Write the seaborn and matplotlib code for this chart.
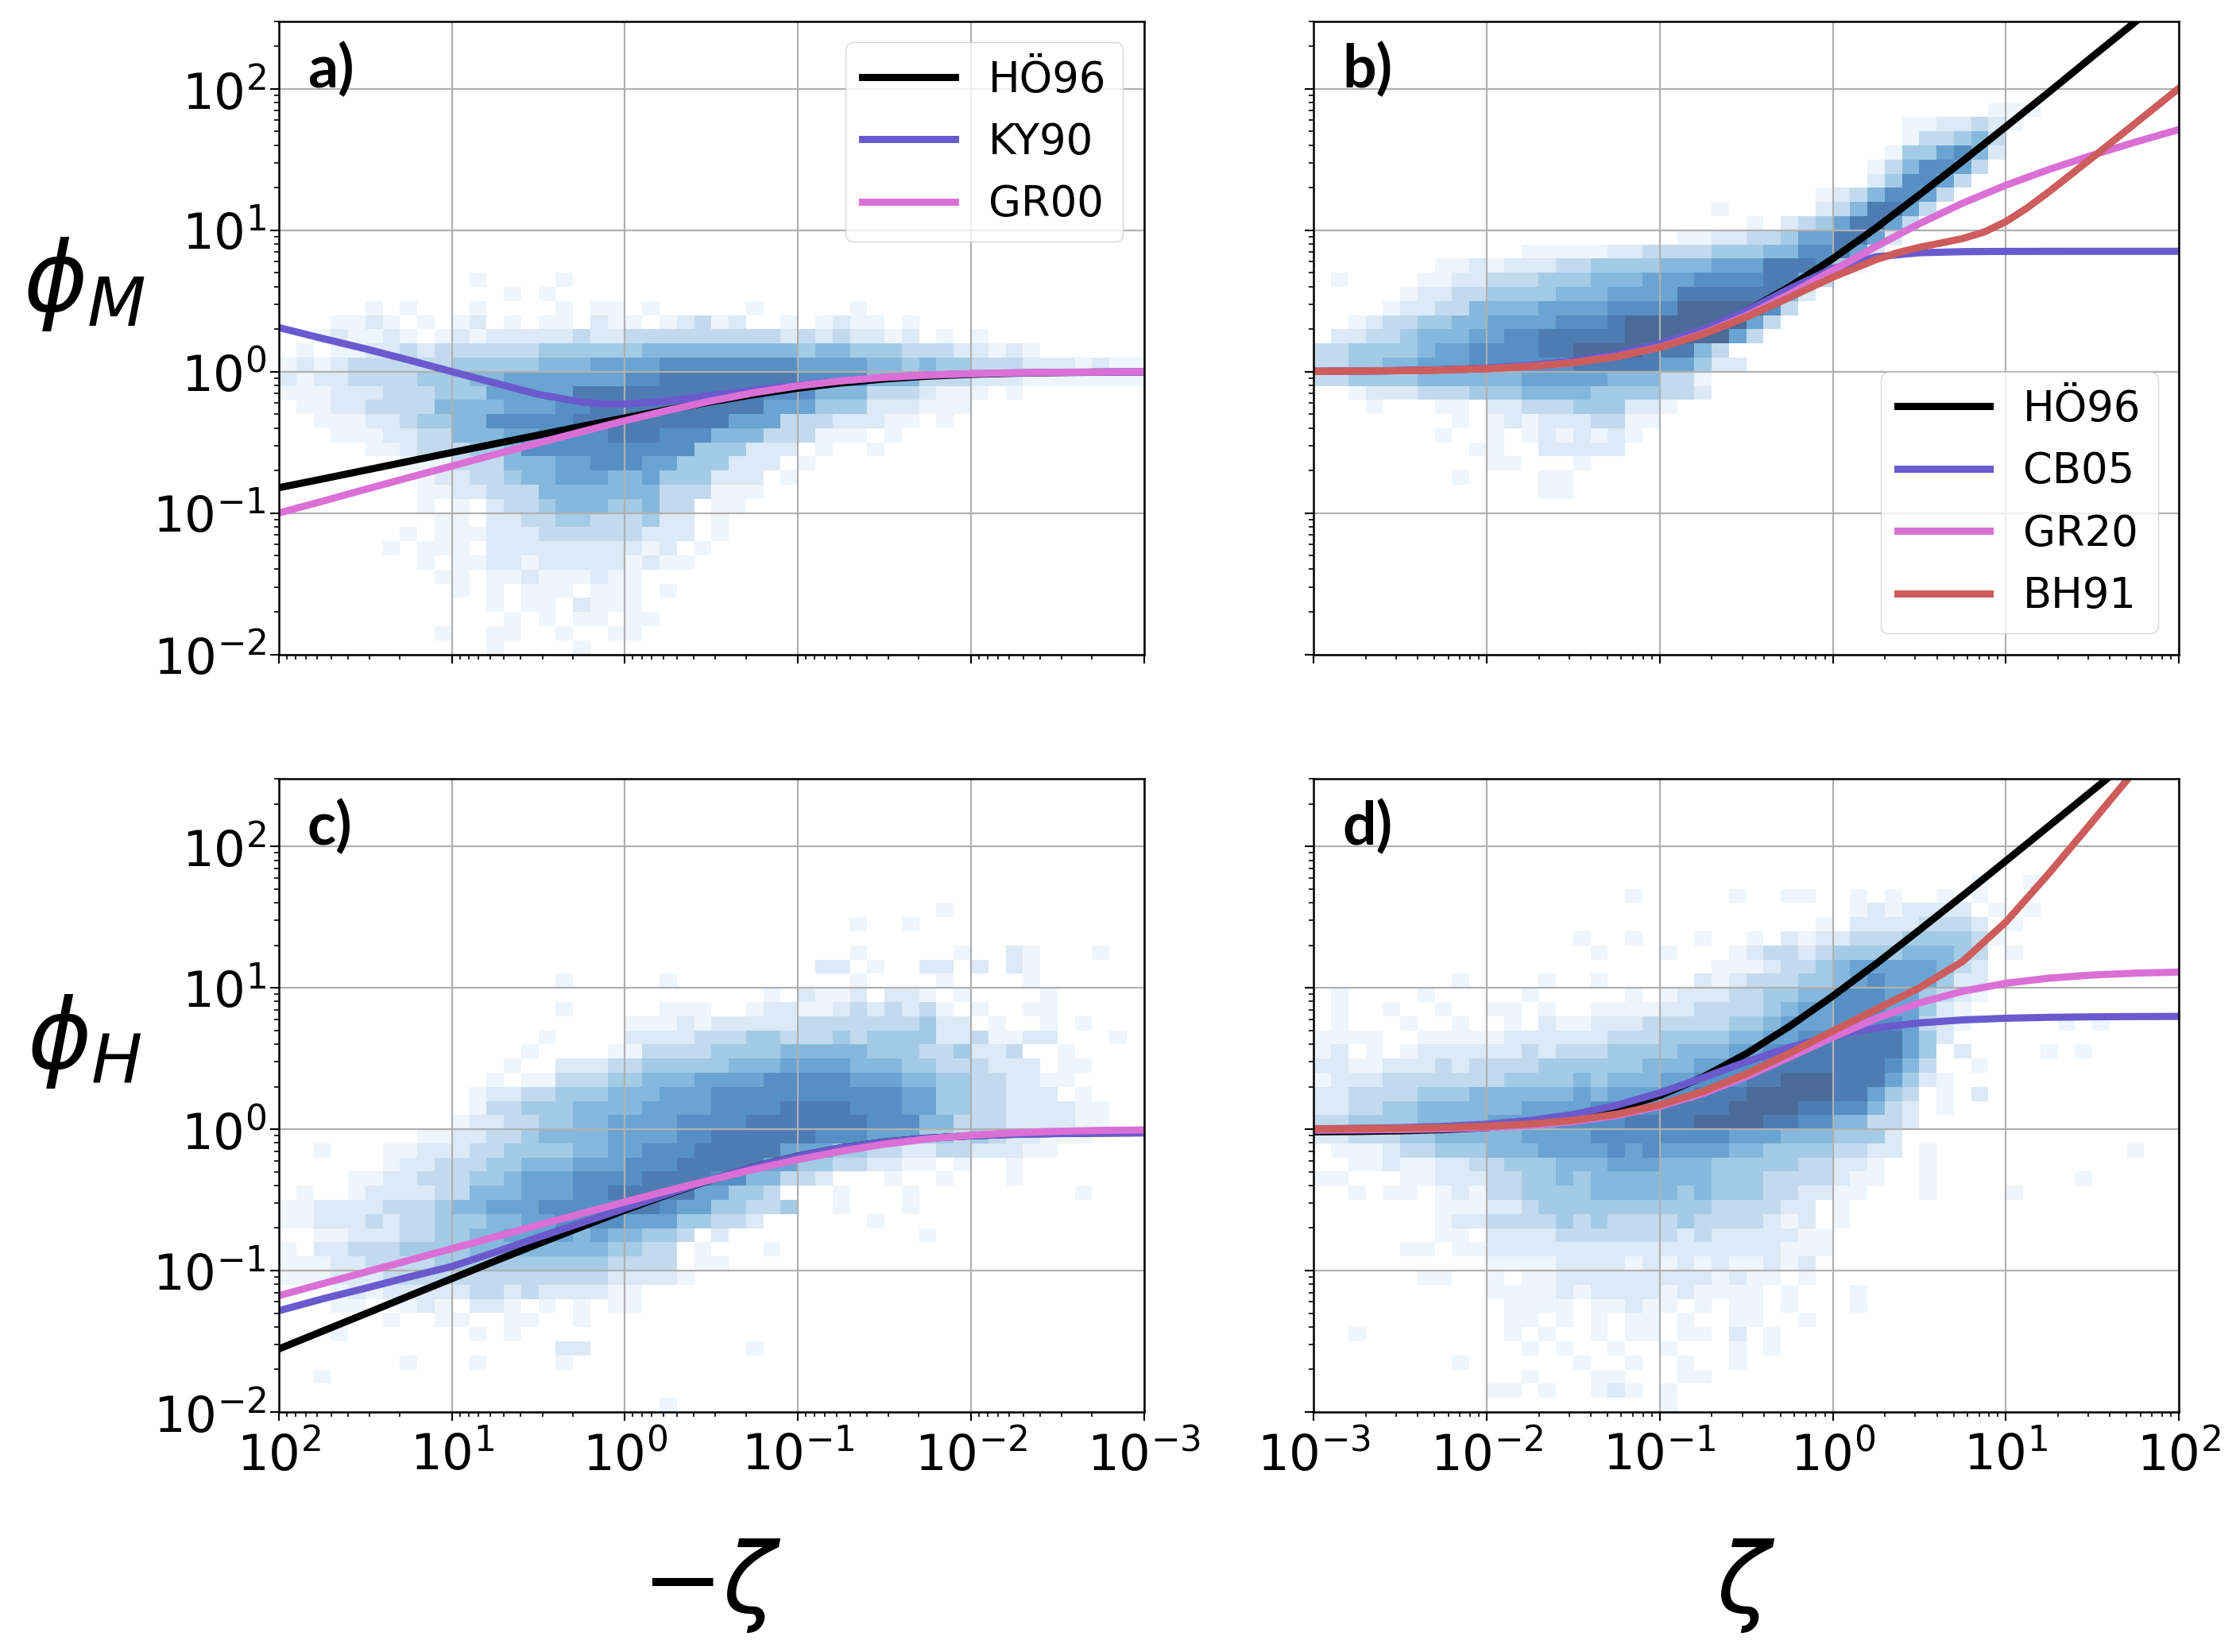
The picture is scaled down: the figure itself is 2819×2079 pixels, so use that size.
import numpy as np
import pandas as pd
import matplotlib
matplotlib.use("Agg")
import matplotlib.pyplot as plt
from matplotlib.colors import ListedColormap
import seaborn as sns

# ---------------- curves ----------------
# unstable side, x = -zeta
zeta_u = [100, 56.2, 31.6, 17.8, 10, 5.62, 3.16, 1.78, 1, 0.562, 0.316,
          0.178, 0.1, 0.0562, 0.0316, 0.0178, 0.01, 0.00562, 0.00316, 0.00178, 0.001]
phiM_HO96_u = [0.151, 0.174, 0.201, 0.232, 0.268, 0.309, 0.356, 0.410, 0.471, 0.539, 0.613,
               0.689, 0.764, 0.832, 0.888, 0.929, 0.957, 0.975, 0.985, 0.992, 0.995]
phiM_GR00_u = [0.100, 0.121, 0.147, 0.178, 0.215, 0.260, 0.313, 0.376, 0.450, 0.533, 0.622,
               0.711, 0.794, 0.862, 0.913, 0.947, 0.969, 0.982, 0.990, 0.994, 0.997]
zeta_ky = [100, 56.2, 31.6, 17.8, 10, 5.62, 3.16, 1.78, 1.33, 1, 0.562, 0.316,
           0.178, 0.1, 0.0562, 0.0316, 0.0178, 0.01, 0.00562, 0.00316, 0.00178, 0.001]
phiM_KY90_u = [2.05, 1.72, 1.45, 1.21, 1.00, 0.83, 0.69, 0.61, 0.59, 0.59, 0.62, 0.68,
               0.74, 0.80, 0.862, 0.910, 0.944, 0.966, 0.980, 0.989, 0.993, 0.996]
phiH_HO96_u = [0.0279, 0.0372, 0.0495, 0.0660, 0.0878, 0.117, 0.155, 0.204, 0.268, 0.346, 0.440,
               0.543, 0.646, 0.739, 0.813, 0.865, 0.899, 0.921, 0.933, 0.940, 0.945]
phiH_KY90_u = [0.052, 0.063, 0.075, 0.090, 0.107, 0.135, 0.172, 0.218, 0.276, 0.350, 0.442,
               0.543, 0.645, 0.739, 0.812, 0.864, 0.898, 0.919, 0.931, 0.938, 0.942]
phiH_GR00_u = [0.0665, 0.0806, 0.0976, 0.118, 0.143, 0.173, 0.210, 0.253, 0.306, 0.368, 0.440,
               0.522, 0.610, 0.700, 0.784, 0.854, 0.907, 0.943, 0.967, 0.981, 0.989]

# stable side, x = zeta
zeta_s = [0.001, 0.00178, 0.00316, 0.00562, 0.01, 0.0178, 0.0316, 0.0562, 0.1, 0.178, 0.316,
          0.562, 1, 1.78, 3.16, 5.62, 10, 17.8, 31.6, 56.2, 100]
phiM_HO96_s = [1.005, 1.009, 1.017, 1.030, 1.053, 1.094, 1.168, 1.298, 1.53, 1.94, 2.68,
               3.98, 6.3, 10.4, 17.8, 30.8, 54.0, 95.2, 169, 299, 531]
phiM_CB05_s = [1.006, 1.011, 1.019, 1.034, 1.060, 1.107, 1.188, 1.329, 1.571, 1.985, 2.689,
               3.848, 5.365, 6.491, 6.936, 7.059, 7.090, 7.098, 7.10, 7.10, 7.10]
phiM_GR20_s = [1.005, 1.009, 1.016, 1.028, 1.050, 1.089, 1.157, 1.278, 1.490, 1.859, 2.488,
               3.534, 5.197, 7.685, 11.13, 15.54, 20.84, 26.95, 33.98, 42.09, 51.61]
zeta_bh = [0.001, 0.00178, 0.00316, 0.00562, 0.01, 0.0178, 0.0316, 0.0562, 0.1, 0.178, 0.316,
           0.562, 1, 1.78, 2.37, 3.16, 4.22, 5.62, 7.5, 10, 13.3, 17.8, 31.6, 56.2, 100]
phiM_BH91_s = [1.005, 1.009, 1.016, 1.028, 1.050, 1.088, 1.157, 1.276, 1.484, 1.839, 2.428,
               3.350, 4.656, 6.201, 6.94, 7.574, 8.13, 8.736, 9.72, 11.50, 14.41, 18.77,
               32.62, 57.23, 101]
phiH_HO96_s = [0.958, 0.964, 0.975, 0.994, 1.028, 1.089, 1.197, 1.389, 1.73, 2.34, 3.42,
               5.34, 8.75, 14.8, 25.6, 44.8, 79.0, 140, 248, 440, 781]
phiH_CB05_s = [1.008, 1.014, 1.026, 1.047, 1.085, 1.153, 1.272, 1.476, 1.809, 2.314, 2.998,
               3.794, 4.571, 5.205, 5.652, 5.933, 6.098, 6.191, 6.241, 6.269, 6.283]
phiH_GR20_s = [0.985, 0.989, 0.995, 1.007, 1.029, 1.067, 1.133, 1.249, 1.451, 1.793, 2.355,
               3.229, 4.480, 6.071, 7.821, 9.460, 10.78, 11.72, 12.33, 12.71, 12.93]
phiH_BH91_s = [1.005, 1.009, 1.016, 1.028, 1.050, 1.089, 1.157, 1.277, 1.487, 1.850, 2.460,
               3.447, 4.947, 7.051, 9.987, 15.37, 29.19, 64.74, 149.6, 349.8, 824]

# ---------------- 2-D histograms (0.1 decade cells) ----------------
# one string per row: first row spans 10^2.4..10^2.5, row 45 spans 10^-2..10^-1.9
# columns run left to right as drawn; '.' = empty, 1..9 = shade level
hist_a = [""] * 18 + [
    ".........." ".1....1...",
    ".........." "...1.1....",
    ".....1.1.." ".1....1.11" ".1.....1.." "...1......",
    "...1121.1." "12.1.11.21" "1.12312..1" ".1211.1...",
    "..121121.1" "2122222322" "3333333332" "3232212.1." "1.........",
    ".1.1122323" "3333344444" "4555555555" "4554443332" "2121......",
    "1212333333" "4444455566" "6677777777" "6666554544" "3332221211",
    "2122333344" "4556666666" "7788888888" "7777555333" "2221111111",
    "1112223334" "4466666888" "8888888877" "7555333211" "1.1.......",
    ".112233335" "5556667788" "8888888866" "6444222111",
    "..11122344" "5577777888" "8888886663" "3322211.1.",
    "...1112233" "5556677778" "8877755533" "3111.1....",
    ".....11233" "3445777777" "7777444222" ".1..1.....",
    ".......111" "3335556677" "766444222." "1.........",
    "........12" "2334556665" "56444222.1",
    "........11" "2233355555" "55333111..",
    "........1." "1.23345554" "4533.11...",
    ".........1" "1.22334433" "3422.1....",
    ".......1.1" "1122233333" "3222.1....",
    "......1.11" "1.22222222" "212.1.....",
    "........1." "1122122222" "1211......",
    ".........1" "1.11211121" "1.........",
    ".........." "1.1.111.11" "1.1.......",
    ".........." "..1.11.211" "1.........",
    ".........." "...1.1.11." "11........",
    ".........1" "..11..1..1" "1.........",
    ".........." "..1....1..",
]

hist_b = [""] * 6 + [
    ".........." ".........." ".........." ".........1" "11........",
    ".........." ".........." ".........." "....112232" "1.........",
    ".........." ".........." ".........." "....133453",
    ".........." ".........." ".........." "...1446752",
    ".........." ".........." ".........." "..1357763.",
    ".........." ".........." ".........." "..247763..",
    ".........." ".........." ".........1" "2357763...",
    ".........." ".........." "...1.....2" "358863....",
    ".........." ".........." ".....1.234" "68863.....",
    ".........." ".........." ".112233466" "8862......",
    ".........." "..11111223" "3334445577" "862.......",
    ".......112" "1222334444" "5556668887" "41........",
    ".1....1122" "3334445556" "6677778863",
    ".....12233" "4444555666" "688888852.",
    "....122335" "5556666777" "79999973..",
    "..12334455" "6666777899" "9999963...",
    ".223345556" "6778888899" "999963....",
    "3344445667" "7778899998" "8853......",
    "3344556667" "7777788888" "66422.....",
    "3344445555" "5566666555" "331.......",
    "..12223334" "4455554444" "332.......",
    "...1...11." "2233344422" "1.........",
    "........1." "1212223311",
    ".......1.." "1.1212121.",
    ".........1" "1..22222..",
    ".........." "11...1....",
    "........1." "...11.....",
    ".........." "...11.....",
]

hist_c = [""] * 9 + [
    ".........." ".........." ".........." "........1.",
    ".........." ".........." ".........." "...1..1...",
    "",
    ".........." ".........." ".........." "...1.....1" "..21...1..",
    ".........." ".........." ".........." ".22.1..22." "2.21......",
    ".........." "......1..." "..1......." "...1....1." "...1......",
    ".........." ".........." "........1." "2112.221.1" "....1.....",
    ".........." "......1..." "..111..122" "112323231." "1..11.....",
    ".........." ".........." "1112122222" "3333333422" ".1..1.1...",
    ".........." ".....1...." "2222333443" "3343444422" "31122...1.",
    ".........." "....1....1" "1333344445" "5555444334" "223..1....",
    ".........." "...1..2223" "3444445556" "6665554433" "3222.11...",
    ".........." "..1.113334" "4555666677" "7776665544" "332211....",
    ".........." ".122334445" "5566677777" "7777776644" "33222.1...",
    ".........." ".133444555" "5666677778" "8887776644" "33222211..",
    ".........." "1223344556" "6667777888" "8888777553" "33222211..",
    "........11" "2233455556" "6667788888" "8777666443" "4322111...",
    "..1...1122" "2334444556" "6777888886" "6644332233" "22211.....",
    "......1223" "3344555666" "7778888866" "44332211.1" "..1.......",
    "....112233" "3445666777" "7888877553" "32...1..1." "..1.......",
    ".1..122223" "3555666778" "888866443." "..1...1..." "......1...",
    "1122223334" "5566677777" "8876644334" "..1...1...",
    "1122232334" "4455667777" "66644332.." "....1.....",
    "..11222334" "4556666565" "5443.2...." ".......1..",
    "1.22333444" "4555555554" "433.1...1.",
    "1112233334" "4444444443" "333.11....",
    "1112223333" "3333333332" "2221......",
    "...1212222" "2332322221" "1.........",
    "...11..121" ".221.1.1.1" "1.........",
    "......1..1" "1..11..1..",
    "...1......" ".1.1......",
    ".........." "......22.." ".......1..",
    ".......1.." ".1....1...",
    "..1.......",
    "",
    ".........." ".........." "..1.......",
]

hist_d = [""] * 7 + [
    ".........." ".........." ".........." "........1." ".1........",
    ".........." "........1." "....1..11." ".1.1..1.1.",
    ".........." ".........." ".........." ".1212222.1" ".1........",
    ".........." ".........." ".........1" ".22223332." "1.........",
    ".........." ".....1..1." "..1..1.212" "2333444431",
    ".........." "......1..." "1...123323" "444455543." "1.........",
    ".........." ".........." "...1112334" "566666532.",
    "........1." "...1..1..." "..21233344" "567666422.",
    ".1....1..." "..1.....1." "1222334455" "777664321.",
    ".1..1..1.." "11.1..1111" "2233334566" "77766421..",
    ".1...1..1." ".1.2112223" "3333445666" "77776321.." "...1.1....",
    "1111..1111" "1222222333" "4444556677" "8888642...",
    "12.1.12222" "2232333444" "4555667788" "888864.2.." "..1.1.....",
    "2211222323" "3334444445" "5566778888" "888753..1.",
    "1222333333" "3444454555" "6677788999" "8886421...",
    "2233334445" "5555565666" "7788899999" "88643.1.2.",
    "2233445555" "5566667777" "8888999988" "77532.1...",
    "3344445555" "6666777788" "8899998877" "55332.....",
    "2233344555" "5566667777" "7777666555" "4442......",
    ".111233444" "5556666767" "6666554444" "3322.1...." ".......1..",
    "..11211223" "3444555666" "5554444433" "221..1....",
    "11...11222" "3344545555" "5554443333" "211..1...." "....1.....",
    "..1.11.121" "3344445555" "5454443322" "11...1...." "1.........",
    ".......111" "2234444444" "444333322." "1.........",
    ".......122" "3333434333" "343333212." "1.........",
    ".......11." "2222333333" "3232222211",
    ".....11.11" "2222222222" "2222222111",
    ".........." "1111222212" "121211212.",
    "......11.." "1.11222222" "2221211.1.",
    ".........." "1111212222" "121111.1.." ".1........",
    ".........." ".1111.1121" "1.1.11.1.." ".1........",
    ".........." ".11.1.1.11" ".1..11..1.",
    "..1......." ".1.1..1.11" ".11.2.1...",
    ".........." "..1.1..1.." "1...1.1...",
    "........1." ".....1..1." ".1..1.....",
    ".........." "..1...11.." ".11.......",
    ".........." "11.1..121." "1.........",
    ".........." ".........." "1.........",
]

# model line colours and shade ramp
col_ho, col_blue, col_pink, col_red = "black", "slateblue", "orchid", "indianred"
shade_cmap = ListedColormap(["#eef5fc", "#dce9f6", "#c3daee", "#a3cbe5", "#85b8dc",
                             "#6aa4d2", "#568fc4", "#4e7cb2", "#4b6b98"])


def cells(rows, reverse_x):
    recs = []
    for r, row in enumerate(rows):
        row = row.ljust(50, ".")[:50]
        for c, ch in enumerate(row):
            if ch == ".":
                continue
            lx = 2 - 0.1 * (c + 0.5) if reverse_x else -3 + 0.1 * (c + 0.5)
            ly = 2.5 - 0.1 * (r + 0.5)
            recs.append((10 ** lx, 10 ** ly, int(ch)))
    return pd.DataFrame(recs, columns=["x", "y", "w"])


fig, axes = plt.subplots(2, 2, figsize=(28.19, 20.79), dpi=100, sharex="col", sharey=True)
fig.subplots_adjust(left=0.1245, right=0.9727, top=0.987, bottom=0.1453,
                    wspace=0.196, hspace=0.197)
ax_a, ax_b = axes[0]
ax_c, ax_d = axes[1]

for ax, rows, rev in [(ax_a, hist_a, True), (ax_b, hist_b, False),
                      (ax_c, hist_c, True), (ax_d, hist_d, False)]:
    sns.histplot(data=cells(rows, rev), x="x", y="y", weights="w",
                 binwidth=0.1, binrange=((-3, 2), (-2, 2.5)), log_scale=True,
                 cmap=shade_cmap, vmin=0.5, vmax=9.5, ax=ax)

lw = 6.5
# a) phi_M unstable
sns.lineplot(x=zeta_u, y=phiM_HO96_u, color=col_ho, lw=lw, label="HÖ96", ax=ax_a)
sns.lineplot(x=zeta_ky, y=phiM_KY90_u, color=col_blue, lw=lw, label="KY90", ax=ax_a)
sns.lineplot(x=zeta_u, y=phiM_GR00_u, color=col_pink, lw=lw, label="GR00", ax=ax_a)
# b) phi_M stable
sns.lineplot(x=zeta_s, y=phiM_HO96_s, color=col_ho, lw=lw, label="HÖ96", ax=ax_b)
sns.lineplot(x=zeta_s, y=phiM_CB05_s, color=col_blue, lw=lw, label="CB05", ax=ax_b)
sns.lineplot(x=zeta_s, y=phiM_GR20_s, color=col_pink, lw=lw, label="GR20", ax=ax_b)
sns.lineplot(x=zeta_bh, y=phiM_BH91_s, color=col_red, lw=lw, label="BH91", ax=ax_b)
# c) phi_H unstable
sns.lineplot(x=zeta_u, y=phiH_HO96_u, color=col_ho, lw=lw, ax=ax_c)
sns.lineplot(x=zeta_u, y=phiH_KY90_u, color=col_blue, lw=lw, ax=ax_c)
sns.lineplot(x=zeta_u, y=phiH_GR00_u, color=col_pink, lw=lw, ax=ax_c)
# d) phi_H stable
sns.lineplot(x=zeta_s, y=phiH_HO96_s, color=col_ho, lw=lw, ax=ax_d)
sns.lineplot(x=zeta_s, y=phiH_CB05_s, color=col_blue, lw=lw, ax=ax_d)
sns.lineplot(x=zeta_s, y=phiH_GR20_s, color=col_pink, lw=lw, ax=ax_d)
sns.lineplot(x=zeta_s, y=phiH_BH91_s, color=col_red, lw=lw, ax=ax_d)

ax_a.set_xlim(1e2, 1e-3)
ax_b.set_xlim(1e-3, 1e2)
ax_a.set_ylim(1e-2, 300)

for ax, tag in zip([ax_a, ax_b, ax_c, ax_d], ["a)", "b)", "c)", "d)"]):
    ax.grid(True, which="major", color="#b0b0b0", lw=1.6)
    ax.tick_params(axis="both", which="major", labelsize=45, length=8, width=1.5)
    ax.tick_params(axis="both", which="minor", length=4.5, width=1.2)
    ax.tick_params(axis="x", which="major", pad=9)
    for s in ax.spines.values():
        s.set_linewidth(1.8)
    ax.set_xlabel("")
    ax.set_ylabel("")
    ax.text(0.033, 0.968, tag, transform=ax.transAxes, fontsize=54,
            fontweight="bold", family="Lato", ha="left", va="top")
    if ax.get_legend() is not None and ax in (ax_c, ax_d):
        ax.get_legend().remove()

ax_a.legend(loc="upper right", fontsize=38, handlelength=2.2)
ax_b.legend(loc="lower right", fontsize=38, handlelength=2.2)

ax_a.set_ylabel(r"$\phi_M$", fontsize=88, rotation=0, ha="center", va="center")
ax_a.yaxis.set_label_coords(-0.225, 0.585)
ax_c.set_ylabel(r"$\phi_H$", fontsize=88, rotation=0, ha="center", va="center")
ax_c.yaxis.set_label_coords(-0.225, 0.585)
ax_c.set_xlabel(r"$-\zeta$", fontsize=88, va="center")
ax_c.xaxis.set_label_coords(0.5, -0.275)
ax_d.set_xlabel(r"$\zeta$", fontsize=88, va="center")
ax_d.xaxis.set_label_coords(0.5, -0.275)

fig.savefig("out.png", dpi=100)
